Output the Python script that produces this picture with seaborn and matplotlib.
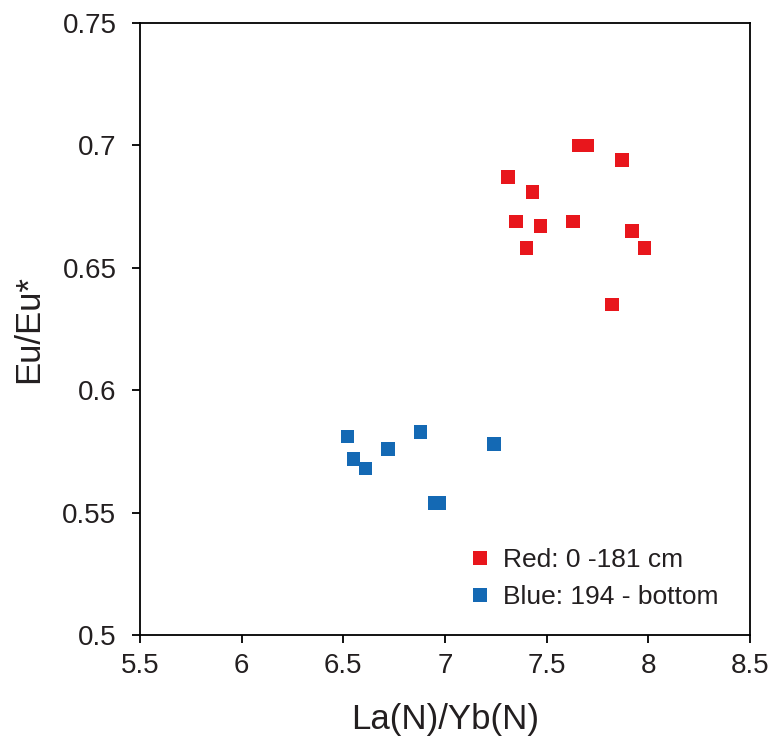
import numpy as np
import pandas as pd
import matplotlib.pyplot as plt
import seaborn as sns

# values
red_la_yb = [7.66, 7.70, 7.87, 7.31, 7.43, 7.35, 7.47, 7.63, 7.92, 7.40, 7.98, 7.82]
red_eu = [0.700, 0.700, 0.694, 0.687, 0.681, 0.669, 0.667, 0.669, 0.665, 0.658, 0.658, 0.635]
blue_la_yb = [6.52, 6.55, 6.61, 6.72, 6.88, 7.24, 6.95, 6.97]
blue_eu = [0.581, 0.572, 0.568, 0.576, 0.583, 0.578, 0.554, 0.554]

red_label = 'Red: 0 -181 cm'
blue_label = 'Blue: 194 - bottom'
x_ticks = ['5.5', '6', '6.5', '7', '7.5', '8', '8.5']
y_ticks = ['0.5', '0.55', '0.6', '0.65', '0.7', '0.75']

df = pd.DataFrame({
    'La(N)/Yb(N)': red_la_yb + blue_la_yb,
    'Eu/Eu*': red_eu + blue_eu,
    'group': [red_label] * len(red_la_yb) + [blue_label] * len(blue_la_yb),
})

sns.set_style('white')
plt.rcParams['font.family'] = ['Liberation Sans', 'DejaVu Sans']
txt = '#231F20'

fig = plt.figure(figsize=(7.71, 7.4), dpi=100)
ax = fig.add_axes([0.1816, 0.1419, 0.7912, 0.827])

sns.scatterplot(data=df, x='La(N)/Yb(N)', y='Eu/Eu*', hue='group',
                palette={red_label: '#E8161C', blue_label: '#1469B4'},
                marker='s', s=95, linewidth=0, ax=ax)

ax.set_xlim(5.5, 8.5)
ax.set_ylim(0.5, 0.75)
ax.set_xticks(np.arange(5.5, 8.51, 0.5))
ax.set_yticks(np.arange(0.5, 0.751, 0.05))
ax.set_xticklabels(x_ticks)
ax.set_yticklabels(y_ticks)
ax.tick_params(axis='both', direction='out', length=6, width=1.3, labelsize=20,
               colors='black', labelcolor=txt, left=True, bottom=True)
ax.tick_params(axis='y', pad=11)
ax.tick_params(axis='x', pad=7)
ax.set_xlabel('La(N)/Yb(N)', fontsize=25, labelpad=17, color=txt)
ax.set_ylabel('Eu/Eu*', fontsize=25, labelpad=12, color=txt)
for sp in ax.spines.values():
    sp.set_color('black')
    sp.set_linewidth(1.3)

leg = ax.legend(loc='lower right', frameon=False, fontsize=19, handlelength=1.0,
                handletextpad=0.35, markerscale=1.1, borderaxespad=0,
                labelspacing=0.5, bbox_to_anchor=(0.965, 0.025))
for t in leg.get_texts():
    t.set_color(txt)

fig.savefig('out.png', dpi=100)
